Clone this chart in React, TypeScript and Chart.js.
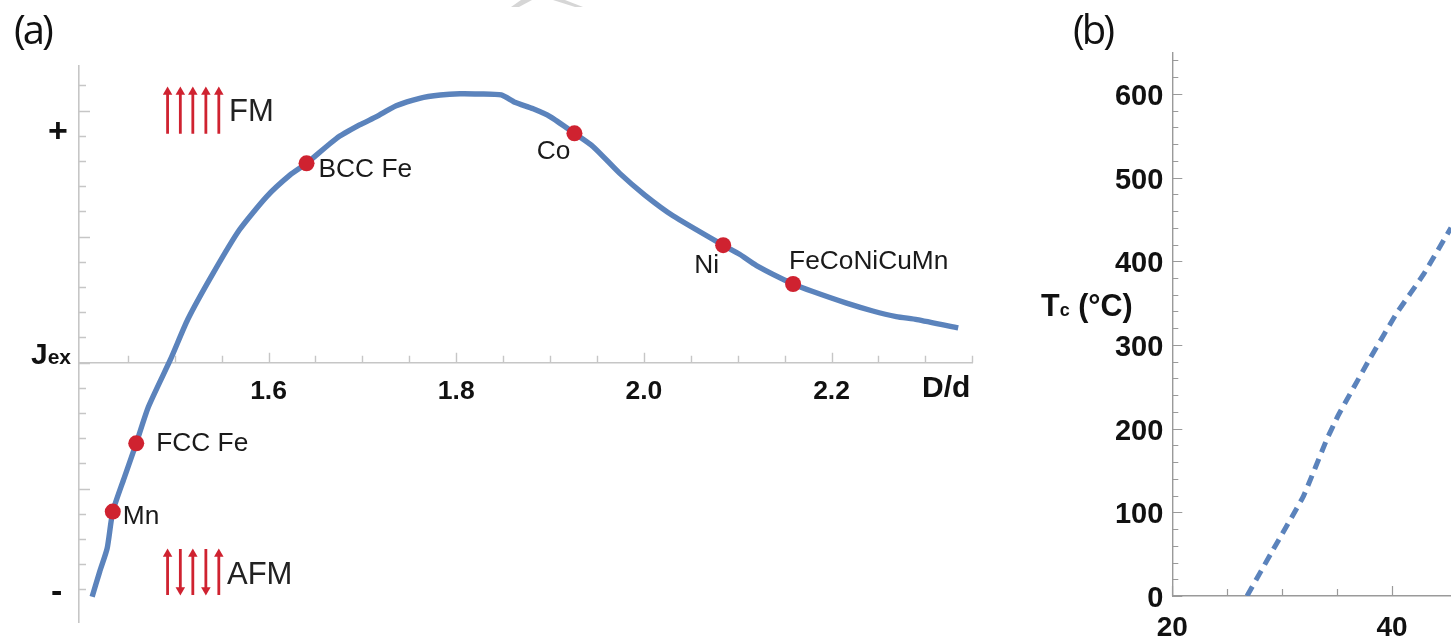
import React, { useEffect, useRef } from "react";
import { Chart, registerables } from "chart.js";

Chart.register(...registerables);

// ---------- Panel (a) data ----------
const jexCurveX = [1.412,1.420,1.428,1.434,1.446,1.459,1.472,1.496,1.514,1.541,1.569,1.598,1.623,1.6405,1.6725,1.697,1.715,1.736,1.761,1.783,1.804,1.825,1.848,1.8625,1.882,1.900,1.926,1.946,1.974,2.001,2.031,2.0845,2.102,2.120,2.159,2.180,2.216,2.244,2.269,2.291,2.335];
const jexCurveY = [-9.29,-8.3,-7.37,-5.91,-4.59,-3.20,-1.75,0.17,1.72,3.55,5.27,6.59,7.45,7.91,8.90,9.43,9.76,10.19,10.49,10.62,10.67,10.66,10.62,10.33,10.07,9.76,9.10,8.57,7.52,6.65,5.83,4.66,4.30,3.85,3.12,2.82,2.36,2.05,1.83,1.71,1.38];
const metalNames = ["Mn", "FCC Fe", "BCC Fe", "Co", "Ni", "FeCoNiCuMn"];
const metalX = [1.434, 1.459, 1.6405, 1.926, 2.0845, 2.159];
const metalY = [-5.91, -3.20, 7.91, 9.10, 4.66, 3.12];
const xTickLabelsA = [1.6, 1.8, 2.0, 2.2];
const fmArrowX = [1.4924, 1.506, 1.5193, 1.5332, 1.547];
const fmArrowTail = 9.08;
const fmArrowHead = 10.74;
const afmArrowX = [1.4924, 1.506, 1.5193, 1.5332, 1.547];
const afmArrowUp = [true, false, true, false, true];
const afmArrowLow = -9.22;
const afmArrowLowHead = -9.02;
const afmArrowHigh = -7.59;
const afmArrowHighTail = -7.39;

// ---------- Panel (b) data ----------
const tcX = [26.8, 29.2, 31.93, 34.06, 35.11, 38.0, 40.43, 42.85, 45.37];
const tcY = [0, 55.9, 119, 187, 216, 284, 338, 384, 440];
const yTickLabelsB = [0, 100, 200, 300, 400, 500, 600];
const xTickLabelsB = [20, 40];

const BLUE = "#5b83bc";
const RED = "#cf2230";
const LABEL_FONT = '"Liberation Sans", Arial, sans-serif';

const labelOffsets: Record<string, [number, number, CanvasTextAlign]> = {
  "Mn": [10, 5, "left"],
  "FCC Fe": [20, 0, "left"],
  "BCC Fe": [12, 6, "left"],
  "Co": [-4, 18, "right"],
  "Ni": [-4, 21, "right"],
  "FeCoNiCuMn": [-4, -22, "left"],
};

function tickMarks(opts: { xStep: number; yStep: number; xMajor: number; yMajor: number; color: string; width: number; xLong: number; xShort: number; yLong: number; yShort: number }) {
  return {
    id: "tickMarks",
    beforeDatasetsDraw(chart: any) {
      const { ctx, scales } = chart;
      const x0 = scales.x.left;
      const y0 = scales.y.getPixelForValue(0);
      ctx.save();
      ctx.strokeStyle = opts.color;
      ctx.lineWidth = opts.width;
      ctx.beginPath();
      for (const t of scales.x.ticks) {
        const n = t.value / opts.xStep;
        if (Math.abs(n - Math.round(n)) > 1e-6) continue;
        const px = Math.round(scales.x.getPixelForValue(t.value)) + 0.5;
        const major = Math.round(n) % opts.xMajor === 0;
        ctx.moveTo(px, y0);
        ctx.lineTo(px, y0 - (major ? opts.xLong : opts.xShort));
      }
      for (const t of scales.y.ticks) {
        const n = t.value / opts.yStep;
        if (Math.abs(n - Math.round(n)) > 1e-6) continue;
        const py = Math.round(scales.y.getPixelForValue(t.value)) + 0.5;
        const major = Math.round(n) % opts.yMajor === 0;
        ctx.moveTo(x0, py);
        ctx.lineTo(x0 + (major ? opts.yLong : opts.yShort), py);
      }
      ctx.stroke();
      ctx.restore();
    },
  };
}

const metalLabels = {
  id: "metalLabels",
  afterDatasetsDraw(chart: any) {
    const { ctx, scales } = chart;
    ctx.save();
    ctx.fillStyle = "#1a1a1a";
    ctx.font = `26.3px ${LABEL_FONT}`;
    ctx.textBaseline = "middle";
    metalNames.forEach((name, i) => {
      const [dx, dy, align] = labelOffsets[name];
      ctx.textAlign = align;
      ctx.fillText(name, scales.x.getPixelForValue(metalX[i]) + dx, scales.y.getPixelForValue(metalY[i]) + dy);
    });
    ctx.restore();
  },
};

function stem(x: number, from: number, to: number, rotation: number) {
  return {
    type: "line" as const,
    data: [{ x, y: from }, { x, y: to }],
    borderColor: RED,
    backgroundColor: RED,
    borderWidth: 2.8,
    pointStyle: "triangle",
    pointRadius: [0, 5.5],
    pointRotation: rotation,
    pointBorderWidth: 0,
    showLine: true,
    tension: 0,
  };
}

function makeChartA(canvas: HTMLCanvasElement) {
  const xMin = 1.398;
  const datasets: any[] = [
    {
      label: "metals",
      data: metalX.map((x, i) => ({ x, y: metalY[i] })),
      backgroundColor: RED,
      borderColor: RED,
      pointRadius: 8,
      pointBorderWidth: 0,
      showLine: false,
    },
    {
      label: "Jex",
      data: jexCurveX.map((x, i) => ({ x, y: jexCurveY[i] })),
      borderColor: BLUE,
      borderWidth: 5.4,
      pointRadius: 0,
      showLine: true,
      tension: 0.2,
    },
    ...fmArrowX.map((x) => stem(x, fmArrowTail, fmArrowHead, 0)),
    ...afmArrowX.map((x, i) =>
      afmArrowUp[i] ? stem(x, afmArrowLow, afmArrowHigh, 0) : stem(x, afmArrowHighTail, afmArrowLowHead, 180)
    ),
  ];
  return new Chart(canvas, {
    type: "scatter",
    data: { datasets },
    plugins: [
      tickMarks({ xStep: 0.05, yStep: 1, xMajor: 4, yMajor: 5, color: "#c6c6c6", width: 1.4, xLong: 10, xShort: 7, yLong: 11, yShort: 7 }),
      metalLabels,
    ],
    options: {
      animation: false,
      responsive: false,
      layout: { padding: { left: 79, right: 27.7, top: 66, bottom: 16 } },
      plugins: { legend: { display: false }, tooltip: { enabled: false }, title: { display: false } },
      scales: {
        x: {
          type: "linear",
          min: xMin,
          max: 2.35,
          position: { y: 0 },
          grid: { drawOnChartArea: false, drawTicks: false },
          border: { display: true, color: "#c6c6c6", width: 1.6 },
          ticks: {
            stepSize: 0.05,
            autoSkip: false,
            maxRotation: 0,
            padding: 13,
            color: "#111",
            font: { family: LABEL_FONT, size: 26.5, weight: "bold" },
            callback: (v: any) => (xTickLabelsA.some((l) => Math.abs(l - v) < 1e-6) ? Number(v).toFixed(1) : ""),
          },
        },
        y: {
          type: "linear",
          min: -10.29,
          max: 11.77,
          position: { x: xMin },
          grid: { drawOnChartArea: false, drawTicks: false },
          border: { display: true, color: "#c6c6c6", width: 1.6 },
          ticks: { stepSize: 1, display: false, autoSkip: false },
        },
      },
    } as any,
  } as any);
}

function makeChartB(canvas: HTMLCanvasElement) {
  return new Chart(canvas, {
    type: "scatter",
    data: {
      datasets: [
        {
          label: "Tc",
          data: tcX.map((x, i) => ({ x, y: tcY[i] })),
          borderColor: BLUE,
          borderWidth: 5,
          borderDash: [11, 7],
          pointRadius: 0,
          showLine: true,
          tension: 0.1,
        },
      ],
    },
    plugins: [tickMarks({ xStep: 5, yStep: 20, xMajor: 4, yMajor: 5, color: "#9a9a9a", width: 1.2, xLong: 10, xShort: 7, yLong: 10, yShort: 6 })],
    options: {
      animation: false,
      responsive: false,
      layout: { padding: { left: 0, right: 60, top: 52.9, bottom: 42 } },
      plugins: { legend: { display: false }, tooltip: { enabled: false }, title: { display: false } },
      scales: {
        x: {
          type: "linear",
          min: 20,
          max: 45.37,
          position: { y: 0 },
          grid: { drawOnChartArea: false, drawTicks: false },
          border: { display: true, color: "#9a9a9a", width: 1.4 },
          ticks: {
            stepSize: 5,
            autoSkip: false,
            maxRotation: 0,
            padding: 15,
            color: "#111",
            font: { family: LABEL_FONT, size: 28, weight: "bold" },
            callback: (v: any) => (xTickLabelsB.includes(Number(v)) ? String(v) : ""),
          },
        },
        y: {
          type: "linear",
          position: "left",
          min: 0,
          max: 649,
          afterFit: (s: any) => {
            s.width = 152.3;
          },
          grid: { drawOnChartArea: false, drawTicks: false },
          border: { display: true, color: "#9a9a9a", width: 1.4 },
          ticks: {
            stepSize: 20,
            autoSkip: false,
            padding: 9,
            color: "#111",
            font: { family: LABEL_FONT, size: 29, weight: "bold", lineHeight: "6px" },
            callback: (v: any) => (yTickLabelsB.includes(Number(v)) ? ["", String(v)] : ""),
          },
        },
      },
    } as any,
  } as any);
}

const text = (left: number, top: number, size: number, extra: React.CSSProperties = {}): React.CSSProperties => ({
  position: "absolute",
  left,
  top,
  fontFamily: LABEL_FONT,
  fontSize: size,
  lineHeight: 1,
  color: "#111",
  whiteSpace: "nowrap",
  ...extra,
});

const panelFont: React.CSSProperties = { fontFamily: '"Open Sans", sans-serif', fontWeight: 400, letterSpacing: -3 };
const watermark: React.CSSProperties = { position: "absolute", left: 505, top: 0, width: 90, height: 8, background: "#d6d6d6" };

export default function App() {
  const refA = useRef<HTMLCanvasElement>(null);
  const refB = useRef<HTMLCanvasElement>(null);
  useEffect(() => {
    const a = makeChartA(refA.current!);
    const b = makeChartB(refB.current!);
    return () => {
      a.destroy();
      b.destroy();
    };
  }, []);
  return (
    <div style={{ position: "absolute", left: 0, top: 0, width: 1451, height: 638, overflow: "hidden", background: "#fff" }}>
      <div style={{ ...watermark, clipPath: "polygon(6px 7px, 14px 7px, 27px 0, 16px 0)" }} />
      <div style={{ ...watermark, clipPath: "polygon(48px 0, 60px 0, 78px 7px, 70px 7px)" }} />
      <canvas ref={refA} width={1000} height={638} style={{ position: "absolute", left: 0, top: 0, width: 1000, height: 638 }} />
      <canvas ref={refB} width={491} height={638} style={{ position: "absolute", left: 1020, top: 0, width: 491, height: 638 }} />
      <div style={text(14, 9, 40, panelFont)}>(a)</div>
      <div style={text(1073, 9, 40, panelFont)}>(b)</div>
      <div style={text(48, 113, 34, { fontWeight: 700 })}>+</div>
      <div style={text(51, 573, 34, { fontWeight: 700 })}>-</div>
      <div style={text(31, 339, 30, { fontWeight: 700 })}>J<span style={{ fontSize: 21 }}>ex</span></div>
      <div style={text(922, 372, 30, { fontWeight: 700 })}>D/d</div>
      <div style={text(229, 95, 31, { color: "#222" })}>FM</div>
      <div style={text(227, 558, 31, { color: "#222" })}>AFM</div>
      <div style={text(1041, 290, 30.5, { fontWeight: 700 })}>T<span style={{ fontSize: 18 }}>c</span> (°C)</div>
    </div>
  );
}
